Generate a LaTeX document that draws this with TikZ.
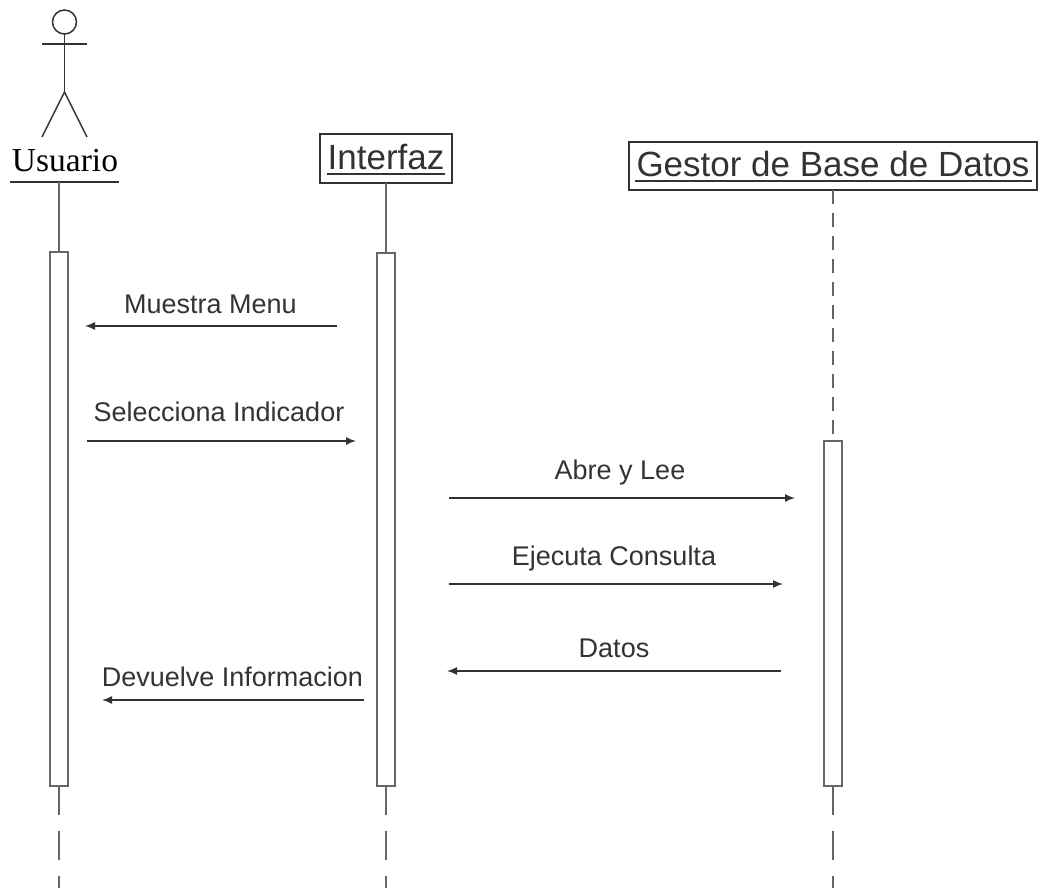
\documentclass[tikz,border=0pt]{standalone}
\usepackage{fontspec}
\setmainfont{Liberation Sans}
\newfontfamily\serifface{Liberation Serif}
\usetikzlibrary{arrows.meta}
\definecolor{inkdark}{HTML}{333333}
\definecolor{lifegray}{HTML}{666666}
\tikzset{
  x=1pt,y=-1pt,
  figure/.style={draw=inkdark,line width=1.5pt},
  objbox/.style={draw=inkdark,line width=2.2pt,fill=white,inner sep=0pt,outer sep=0pt,anchor=north west},
  objtext/.style={inner sep=0pt,anchor=base,text=inkdark,font=\fontsize{35}{35}\selectfont},
  underl/.style={draw=inkdark,line width=2pt},
  life/.style={draw=lifegray,line width=2.2pt},
  lifedash/.style={draw=lifegray,line width=2.2pt,dash pattern=on 29pt off 16pt},
  lifedashb/.style={draw=lifegray,line width=2.2pt,dash pattern=on 14pt off 9pt},
  activ/.style={draw=lifegray,line width=2.2pt,fill=white,inner sep=0pt,outer sep=0pt,minimum width=18pt,anchor=north},
  msg/.style={draw=inkdark,line width=1.5pt,-{Latex[length=10pt,width=8pt]}},
  msglabel/.style={text=inkdark,inner sep=0pt,font=\fontsize{27}{27}\selectfont,anchor=base},
}
\begin{document}
\begin{tikzpicture}
\useasboundingbox (0,0) rectangle (1043,888);
% Actor
\node[circle,draw=inkdark,line width=1.5pt,minimum size=24pt,inner sep=0pt,outer sep=0pt] (head) at (64.5,22) {};
\coordinate (armL) at (42,44);
\coordinate (armR) at (87,44);
\coordinate (hip) at (64.5,92);
\coordinate (footL) at (42,137);
\coordinate (footR) at (87,137);
\draw[figure] (head.south) -- (hip);
\draw[figure] (armL) -- (armR);
\draw[figure] (footL) -- (hip) -- (footR);
\node[inner sep=0pt,anchor=base,text=black,font=\serifface\fontsize{33.5}{33.5}\selectfont] (usuario) at (65,171) {Usuario};
\coordinate (ulA) at (10,182);
\coordinate (ulB) at (119,182);
\coordinate (usuarioFoot) at (59,182);
\draw[underl] (ulA) -- (ulB);
% Object boxes
\node[objbox,minimum width=132pt,minimum height=49pt] (interfaz) at (320,134) {};
\node[objtext] (interfazT) at (386,169) {Interfaz};
\draw[underl] (327,174) -- (445,174);
\node[objbox,minimum width=408pt,minimum height=48pt] (gestor) at (629,142) {};
\node[objtext] (gestorT) at (833,176) {Gestor de Base de Datos};
\draw[underl] (635,181) -- (1032,181);
% Activations
\node[activ,minimum height=534pt] (a1) at (59,252) {};
\node[activ,minimum height=533pt] (a2) at (386,253) {};
\node[activ,minimum height=345pt] (a3) at (833,441) {};
% Lifelines
\draw[life] (usuarioFoot) -- (a1.north);
\draw[life] (interfaz.south) -- (a2.north);
\draw[lifedashb] (gestor.south) -- (a3.north);
\coordinate (e1) at (59,888);
\coordinate (e2) at (386,888);
\coordinate (e3) at (833,888);
\draw[lifedash] (a1.south) -- (e1);
\draw[lifedash] (a2.south) -- (e2);
\draw[lifedash] (a3.south) -- (e3);
% Messages
\coordinate (m1s) at (337,326); \coordinate (m1e) at (85,326);
\coordinate (m2s) at (87,441);  \coordinate (m2e) at (356,441);
\coordinate (m3s) at (449,498); \coordinate (m3e) at (795,498);
\coordinate (m4s) at (449,584); \coordinate (m4e) at (783,584);
\coordinate (m5s) at (781,671); \coordinate (m5e) at (447,671);
\coordinate (m6s) at (364,700); \coordinate (m6e) at (102,700);
\draw[msg] (m1s) -- (m1e);
\draw[msg] (m2s) -- (m2e);
\draw[msg] (m3s) -- (m3e);
\draw[msg] (m4s) -- (m4e);
\draw[msg] (m5s) -- (m5e);
\draw[msg] (m6s) -- (m6e);
\node[msglabel] (l1) at (210.5,313) {Muestra Menu};
\node[msglabel] (l2) at (219,421) {Selecciona Indicador};
\node[msglabel] (l3) at (620,479) {Abre y Lee};
\node[msglabel] (l4) at (614,565) {Ejecuta Consulta};
\node[msglabel] (l5) at (614,657) {Datos};
\node[msglabel] (l6) at (232.5,686) {Devuelve Informacion};
\end{tikzpicture}
\end{document}
